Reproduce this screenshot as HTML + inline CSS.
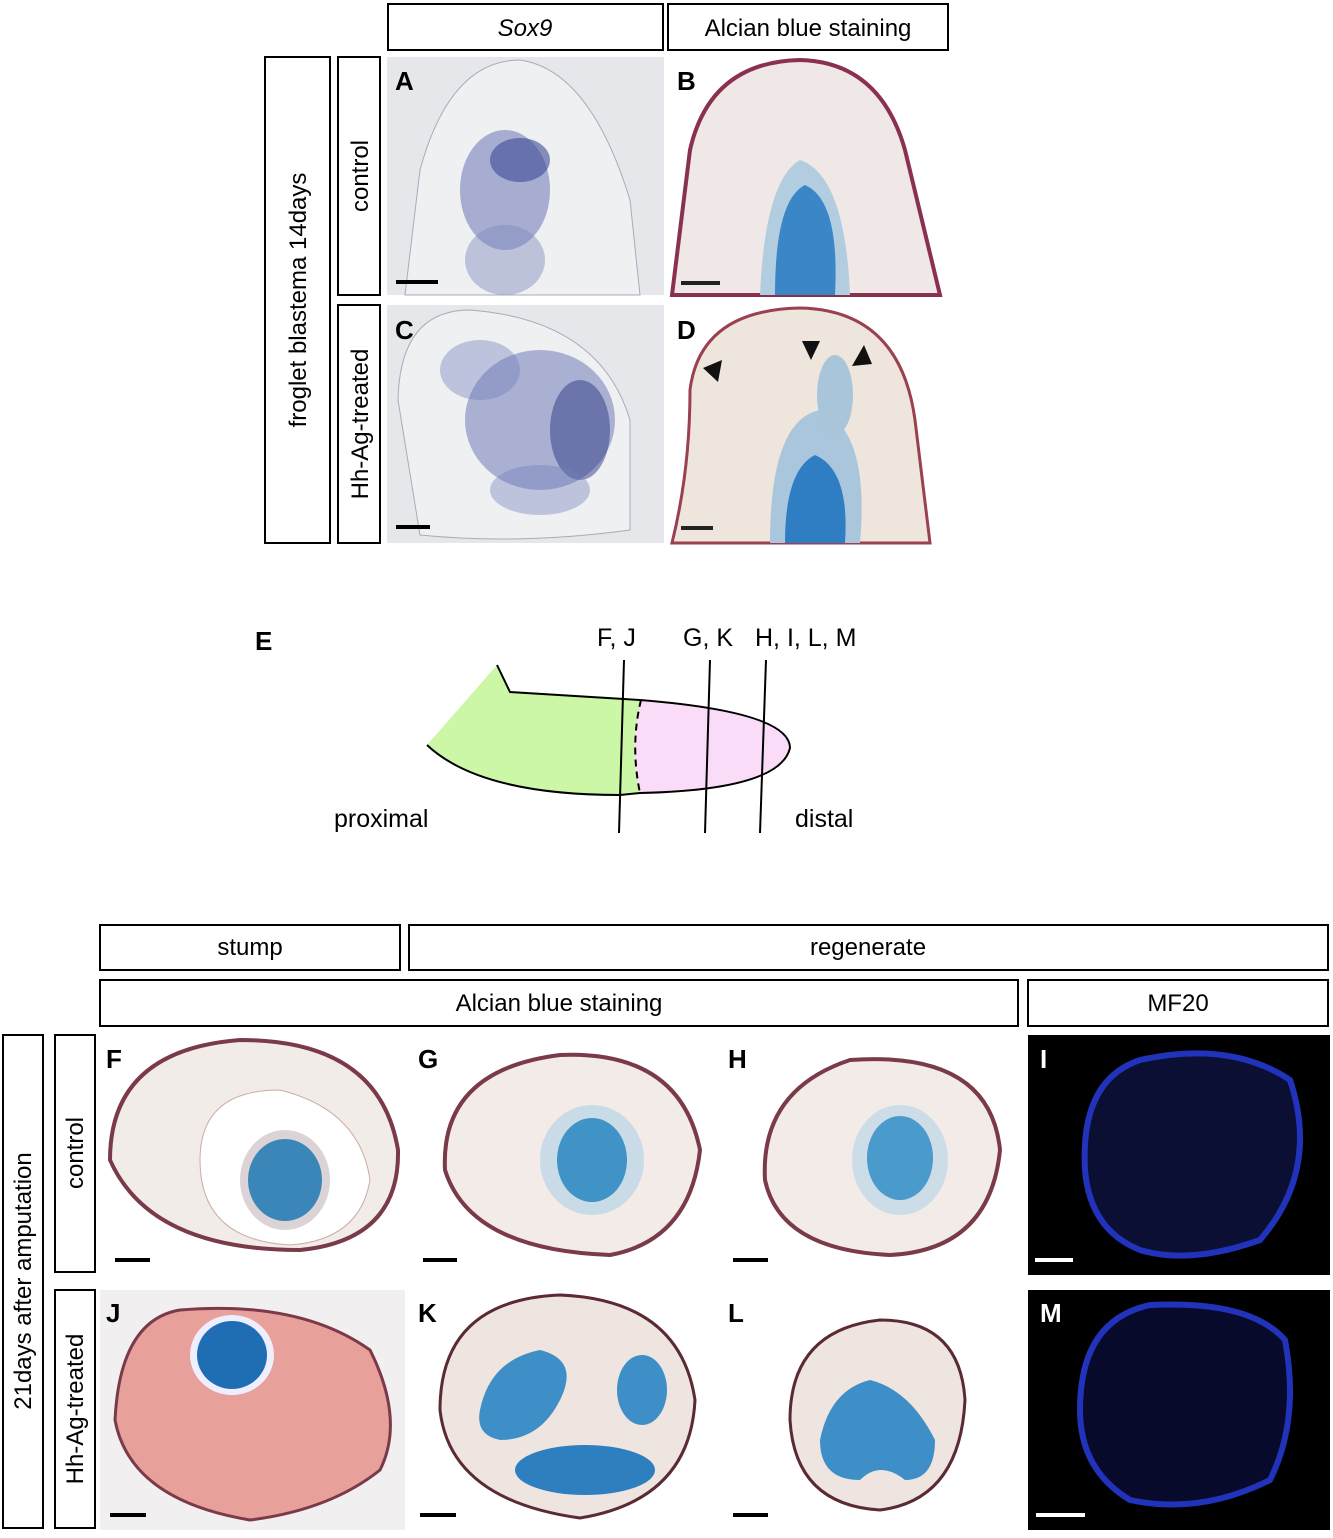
<!DOCTYPE html>
<html><head><meta charset="utf-8"><style>
body{margin:0;background:#fff;width:1333px;height:1533px;overflow:hidden;font-family:"Liberation Sans",Arial,sans-serif}
</style></head><body>
<svg width="1333" height="1533" viewBox="0 0 1333 1533" xmlns="http://www.w3.org/2000/svg" font-family="Liberation Sans, Arial, sans-serif">
<g fill="none" stroke="#000" stroke-width="2">
<rect x="388" y="4" width="275" height="46"/><rect x="668" y="4" width="280" height="46"/>
<rect x="265" y="57" width="65" height="486"/><rect x="338" y="57" width="42" height="238"/><rect x="338" y="305" width="42" height="238"/>
<rect x="100" y="925" width="300" height="45"/><rect x="409" y="925" width="919" height="45"/>
<rect x="100" y="980" width="918" height="46"/><rect x="1028" y="980" width="300" height="46"/>
<rect x="3" y="1035" width="40" height="493"/><rect x="55" y="1035" width="40" height="237"/><rect x="55" y="1290" width="40" height="238"/>
</g>
<g font-size="24" text-anchor="middle">
<text x="525" y="36" font-style="italic">Sox9</text><text x="808" y="36">Alcian blue staining</text>
<text transform="translate(306,300) rotate(-90)">froglet blastema 14days</text>
<text transform="translate(368,176) rotate(-90)">control</text>
<text transform="translate(368,424) rotate(-90)">Hh-Ag-treated</text>
<text x="250" y="955">stump</text><text x="868" y="955">regenerate</text>
<text x="559" y="1011">Alcian blue staining</text><text x="1178" y="1011">MF20</text>
<text transform="translate(31,1281) rotate(-90)">21days after amputation</text>
<text transform="translate(83,1153) rotate(-90)">control</text>
<text transform="translate(83,1409) rotate(-90)">Hh-Ag-treated</text>
</g>
<!-- A -->
<rect x="387" y="57" width="277" height="238" fill="#e6e7ea"/>
<path d="M405 295 L420 170 Q450 60 520 60 Q590 70 630 200 L640 295 Z" fill="#eff0f2" stroke="#aab" stroke-width="1"/>
<ellipse cx="505" cy="190" rx="45" ry="60" fill="#6a76b4" opacity=".55"/>
<ellipse cx="520" cy="160" rx="30" ry="22" fill="#3e4a96" opacity=".6"/>
<ellipse cx="505" cy="260" rx="40" ry="35" fill="#7d89bd" opacity=".45"/>
<!-- B -->
<rect x="668" y="57" width="280" height="238" fill="#fff"/>
<path d="M672 295 L690 150 Q710 62 800 60 Q880 62 905 150 L940 295 Z" fill="#efe8e6" stroke="#8a3050" stroke-width="4"/>
<path d="M760 295 Q765 180 800 160 Q845 175 850 295 Z" fill="#b3cde0"/>
<path d="M775 295 Q775 200 805 185 Q840 200 835 295 Z" fill="#3a86c6"/>
<!-- C -->
<rect x="387" y="305" width="277" height="238" fill="#e6e7ea"/>
<path d="M398 400 Q400 310 470 310 Q600 320 630 420 L630 530 Q520 545 420 535 Z" fill="#eff0f2" stroke="#aab" stroke-width="1"/>
<ellipse cx="540" cy="420" rx="75" ry="70" fill="#6470b0" opacity=".5"/>
<ellipse cx="580" cy="430" rx="30" ry="50" fill="#2e3a88" opacity=".5"/>
<ellipse cx="480" cy="370" rx="40" ry="30" fill="#7480bc" opacity=".4"/>
<ellipse cx="540" cy="490" rx="50" ry="25" fill="#7480bc" opacity=".4"/>
<!-- D -->
<rect x="668" y="305" width="280" height="238" fill="#fff"/>
<path d="M672 543 Q690 470 690 390 Q700 310 800 308 Q900 310 915 420 L930 543 Z" fill="#eee6dd" stroke="#9a4050" stroke-width="3"/>
<path d="M770 543 Q770 420 820 410 Q870 430 860 543 Z" fill="#aac6dc"/>
<path d="M785 543 Q785 470 815 455 Q850 470 845 543 Z" fill="#2f7ec4"/>
<ellipse cx="835" cy="395" rx="18" ry="40" fill="#a9c5da"/>
<polygon points="703,368 722,360 718,382" fill="#111"/><polygon points="802,341 820,341 811,360" fill="#111"/><polygon points="852,366 864,345 872,364" fill="#111"/>
<g stroke-width="4">
<line x1="396" y1="282" x2="438" y2="282" stroke="#000"/><line x1="681" y1="283" x2="720" y2="283" stroke="#222"/>
<line x1="396" y1="527" x2="430" y2="527" stroke="#000"/><line x1="681" y1="528" x2="713" y2="528" stroke="#222"/>
</g>
<!-- E -->
<path d="M497 665 L510 692 L640 700 Q790 712 790 748 Q780 790 640 793 L620 795 Q480 795 427 745 Z" fill="#ccf7a6"/>
<path d="M641 700 Q788 712 790 748 Q780 790 640 793 Q628 750 641 700 Z" fill="#fbdcf8"/>
<path d="M497 665 L510 692 L640 700 Q790 712 790 748 Q780 790 640 793 L620 795 Q480 795 427 745" fill="none" stroke="#000" stroke-width="2"/>
<path d="M641 700 Q630 745 640 793" fill="none" stroke="#000" stroke-width="2" stroke-dasharray="7,5"/>
<g stroke="#000" stroke-width="2"><line x1="624" y1="660" x2="619" y2="833"/><line x1="710" y1="660" x2="705" y2="833"/><line x1="766" y1="660" x2="760" y2="833"/></g>
<g font-size="25"><text x="597" y="646">F, J</text><text x="683" y="646">G, K</text><text x="755" y="646">H, I, L, M</text>
<text x="334" y="827">proximal</text><text x="795" y="827">distal</text></g>
<!-- F -->
<path d="M110 1160 Q110 1050 240 1040 Q380 1040 398 1150 Q400 1240 300 1250 Q150 1250 110 1160 Z" fill="#f2ece9" stroke="#7a3a4a" stroke-width="4"/>
<path d="M200 1160 Q200 1090 280 1090 Q360 1110 370 1180 Q360 1240 290 1245 Q200 1240 200 1160Z" fill="#fff" stroke="#caa" stroke-width="1"/>
<ellipse cx="285" cy="1180" rx="45" ry="50" fill="#dbd3d6"/>
<ellipse cx="285" cy="1180" rx="37" ry="41" fill="#3a86b8"/>
<!-- G -->
<path d="M445 1170 Q440 1070 560 1055 Q680 1050 700 1150 Q690 1240 610 1255 Q470 1250 445 1170 Z" fill="#f2ebe8" stroke="#7a3a4a" stroke-width="4"/>
<ellipse cx="592" cy="1160" rx="52" ry="55" fill="#c9dbe6"/>
<ellipse cx="592" cy="1160" rx="35" ry="42" fill="#3f93c6"/>
<!-- H -->
<path d="M765 1180 Q760 1090 850 1060 Q990 1050 1000 1150 Q990 1250 890 1255 Q780 1250 765 1180 Z" fill="#f2ebe8" stroke="#7a3a4a" stroke-width="4"/>
<ellipse cx="900" cy="1160" rx="48" ry="55" fill="#cddde8"/>
<ellipse cx="900" cy="1158" rx="33" ry="42" fill="#4a9acc"/>
<!-- I -->
<rect x="1028" y="1035" width="302" height="240" fill="#000"/>
<path d="M1085 1170 Q1080 1080 1140 1060 Q1230 1040 1290 1080 Q1320 1170 1260 1240 Q1190 1265 1140 1250 Q1090 1230 1085 1170Z" fill="#0a0f33" stroke="#2233bb" stroke-width="6"/>
<line x1="1035" y1="1260" x2="1073" y2="1260" stroke="#fff" stroke-width="4"/>
<!-- J -->
<rect x="100" y="1290" width="305" height="240" fill="#f1efef"/>
<path d="M115 1420 Q120 1320 180 1310 Q300 1300 370 1350 Q405 1420 380 1470 Q330 1510 250 1520 Q130 1500 115 1420Z" fill="#e7a09a" stroke="#7a3a4a" stroke-width="3"/>
<ellipse cx="232" cy="1355" rx="42" ry="40" fill="#eef"/>
<ellipse cx="232" cy="1355" rx="35" ry="34" fill="#1f6eb4"/>
<!-- K -->
<rect x="410" y="1290" width="305" height="240" fill="#fff"/>
<path d="M440 1410 Q440 1300 560 1295 Q680 1300 695 1400 Q690 1500 580 1518 Q450 1500 440 1410Z" fill="#eee4e0" stroke="#5a2a35" stroke-width="3"/>
<path d="M480 1410 Q490 1360 540 1350 Q580 1360 560 1400 Q540 1440 500 1440 Q475 1435 480 1410Z" fill="#3e8fc8"/>
<ellipse cx="642" cy="1390" rx="25" ry="35" fill="#3e8fc8"/>
<ellipse cx="585" cy="1470" rx="70" ry="25" fill="#2e7fc0"/>
<!-- L -->
<rect x="720" y="1290" width="300" height="240" fill="#fff"/>
<path d="M790 1420 Q790 1330 880 1320 Q960 1320 965 1400 Q960 1500 880 1510 Q795 1505 790 1420Z" fill="#eee4e0" stroke="#5a2a35" stroke-width="3"/>
<path d="M820 1440 Q830 1390 870 1380 Q910 1390 935 1440 Q935 1480 905 1480 Q880 1460 860 1480 Q820 1480 820 1440Z" fill="#3e8fc8"/>
<!-- M -->
<rect x="1028" y="1290" width="302" height="240" fill="#000"/>
<path d="M1080 1410 Q1080 1320 1150 1305 Q1250 1300 1285 1340 Q1300 1420 1270 1480 Q1200 1515 1130 1500 Q1080 1470 1080 1410Z" fill="#070a2a" stroke="#2233bb" stroke-width="6"/>
<line x1="1036" y1="1515" x2="1085" y2="1515" stroke="#fff" stroke-width="4"/>
<g stroke="#000" stroke-width="4">
<line x1="115" y1="1260" x2="150" y2="1260"/><line x1="423" y1="1260" x2="457" y2="1260"/><line x1="733" y1="1260" x2="768" y2="1260"/>
<line x1="110" y1="1515" x2="146" y2="1515"/><line x1="420" y1="1515" x2="456" y2="1515"/><line x1="733" y1="1515" x2="768" y2="1515"/>
</g>
<g font-size="26" font-weight="bold">
<text x="395" y="90">A</text><text x="677" y="90">B</text><text x="395" y="339">C</text><text x="677" y="339">D</text>
<text x="255" y="650">E</text>
<text x="106" y="1068">F</text><text x="418" y="1068">G</text><text x="728" y="1068">H</text>
<text x="106" y="1322">J</text><text x="418" y="1322">K</text><text x="728" y="1322">L</text>
<text x="1040" y="1068" fill="#fff">I</text><text x="1040" y="1322" fill="#fff">M</text>
</g>
</svg>
</body></html>
